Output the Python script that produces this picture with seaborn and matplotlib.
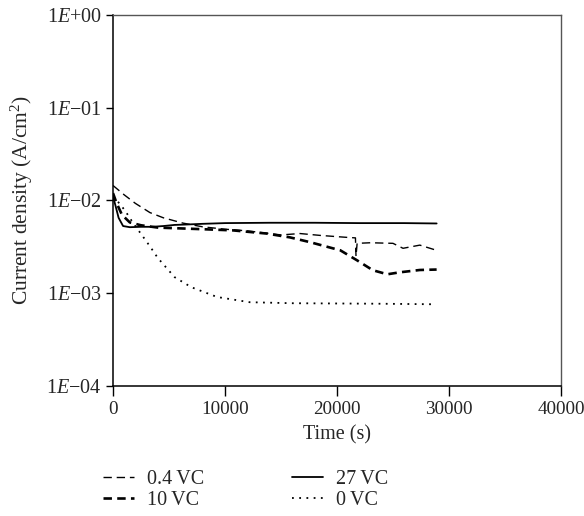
import matplotlib
matplotlib.use("Agg")
import matplotlib.pyplot as plt
import seaborn as sns
import pandas as pd
import numpy as np

# ---- data ----
t_27 = [0, 200, 500, 900, 1500, 2500, 3500, 4500, 5500, 6500, 8000, 10000, 14000, 18000, 22000, 26000, 28900]
v_27 = [1.1e-2, 9.0e-3, 6.5e-3, 5.3e-3, 5.15e-3, 5.2e-3, 5.2e-3, 5.3e-3, 5.45e-3, 5.5e-3, 5.6e-3, 5.7e-3, 5.75e-3, 5.75e-3, 5.7e-3, 5.7e-3, 5.65e-3]

t_04 = [0, 1000, 2000, 3300, 4500, 6250, 8000, 10000, 12000, 14000, 15000, 16700, 18500, 20900, 21650, 21700, 21800, 23000, 25000, 25900, 27400, 28900]
v_04 = [1.45e-2, 1.15e-2, 9.3e-3, 7.4e-3, 6.5e-3, 5.7e-3, 5.2e-3, 4.9e-3, 4.7e-3, 4.4e-3, 4.25e-3, 4.4e-3, 4.2e-3, 4.0e-3, 3.95e-3, 2.5e-3, 3.45e-3, 3.5e-3, 3.45e-3, 3.05e-3, 3.3e-3, 2.9e-3]

t_10 = [0, 300, 800, 1500, 2500, 4000, 6000, 8000, 10700, 13700, 15800, 17600, 20300, 21800, 23200, 24500, 25600, 27400, 28900]
v_10 = [1.2e-2, 9.5e-3, 7.0e-3, 5.8e-3, 5.4e-3, 5.1e-3, 5.0e-3, 4.9e-3, 4.76e-3, 4.4e-3, 4.0e-3, 3.55e-3, 2.9e-3, 2.26e-3, 1.77e-3, 1.6e-3, 1.68e-3, 1.78e-3, 1.8e-3]

t_0 = [0, 500, 1070, 1800, 2600, 3300, 4000, 5500, 7000, 9300, 12200, 16000, 20000, 24000, 28700]
v_0 = [1.1e-2, 9.5e-3, 7.8e-3, 5.7e-3, 4.2e-3, 3.2e-3, 2.4e-3, 1.49e-3, 1.16e-3, 9.1e-4, 8.0e-4, 7.8e-4, 7.75e-4, 7.7e-4, 7.6e-4]

series_labels = ["0.4\u2009VC", "10\u2009VC", "27\u2009VC", "0\u2009VC"]
x_ticks = [0, 10000, 20000, 30000, 40000]
y_ticks = [1e-4, 1e-3, 1e-2, 1e-1, 1e0]
y_ticklabels = [r"1$\mathit{E}$−04", r"1$\mathit{E}$−03", r"1$\mathit{E}$−02",
                r"1$\mathit{E}$−01", r"1$\mathit{E}$+00"]

sns.set_style("ticks")
plt.rcParams["font.family"] = ["Liberation Serif", "DejaVu Serif"]
plt.rcParams["mathtext.fontset"] = "custom"
plt.rcParams["mathtext.rm"] = "Liberation Serif"
plt.rcParams["mathtext.it"] = "Liberation Serif:italic"
plt.rcParams["mathtext.bf"] = "Liberation Serif:bold"

FS = 14.5

fig = plt.figure(figsize=(5.84, 5.16), dpi=100)
ax = fig.add_axes([0.1935, 0.252, 0.767, 0.719])

def df_of(t, v, lab):
    return pd.DataFrame({"t": t, "v": v, "s": lab})

sns.lineplot(data=df_of(t_04, v_04, series_labels[0]), x="t", y="v", ax=ax, color="black",
             lw=1.0, dashes=False, linestyle=(0, (6, 3.5)), label=series_labels[0], estimator=None)
sns.lineplot(data=df_of(t_10, v_10, series_labels[1]), x="t", y="v", ax=ax, color="black",
             lw=1.9, dashes=False, linestyle=(0, (3.2, 2)), label=series_labels[1], estimator=None)
sns.lineplot(data=df_of(t_27, v_27, series_labels[2]), x="t", y="v", ax=ax, color="black",
             lw=1.3, label=series_labels[2], estimator=None)
sns.lineplot(data=df_of(t_0, v_0, series_labels[3]), x="t", y="v", ax=ax, color="black",
             lw=1.3, dashes=False, linestyle=(0, (1, 3)), label=series_labels[3], estimator=None)

ax.set_yscale("log")
ax.set_xlim(0, 40000)
ax.set_ylim(1e-4, 1e0)
ax.set_xticks(x_ticks)
ax.set_xticklabels([str(x) for x in x_ticks], fontsize=13.8)
ax.set_yticks(y_ticks)
ax.set_yticklabels(y_ticklabels, fontsize=FS)
ax.yaxis.set_minor_locator(matplotlib.ticker.NullLocator())
ax.tick_params(axis="y", direction="out", length=5, width=1.0, color="black", pad=3)
ax.tick_params(axis="x", direction="out", length=7, width=1.0, color="black", pad=4)

ax.set_xlabel("Time (s)", fontsize=FS, labelpad=5)
ax.set_ylabel(r"Current density (A/cm$^{2}$)", fontsize=15.5, labelpad=8)

for side in ["left", "bottom"]:
    ax.spines[side].set_color("black")
    ax.spines[side].set_linewidth(1.1)
for side in ["top", "right"]:
    ax.spines[side].set_visible(True)
    ax.spines[side].set_color("#555555")
    ax.spines[side].set_linewidth(1.0)

handles, labels = ax.get_legend_handles_labels()
ax.legend(handles, labels, ncol=2, frameon=False, fontsize=FS,
          loc="upper left", bbox_to_anchor=(0.145, 0.125), bbox_transform=fig.transFigure,
          handlelength=1.55, columnspacing=4.35, labelspacing=0.12, handletextpad=0.65,
          borderpad=0.4)

fig.savefig("out.png", dpi=100, facecolor="white")
